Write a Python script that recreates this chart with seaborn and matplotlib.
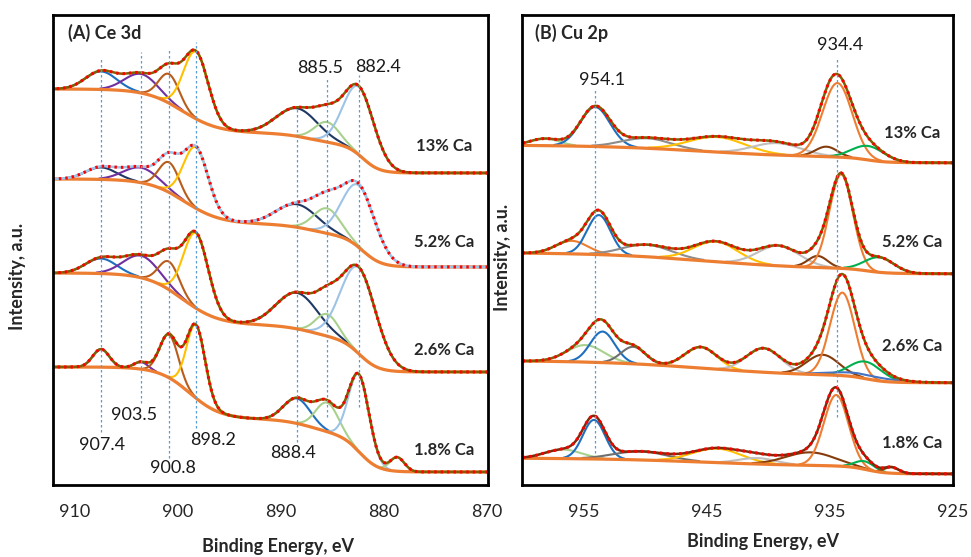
import numpy as np
import seaborn as sns
import matplotlib.pyplot as plt

sns.set_style("white")
plt.rcParams["font.family"] = ["Lato", "DejaVu Sans"]

# colours used by the fitting program
ORANGE = "#ED7D31"
OLIVE = "#7F6000"
BLUE = "#1F6FBF"
NAVY = "#203864"
PURPLE = "#7030A0"
BROWN = "#B85C1C"
GOLD = "#FFC000"
LGREEN = "#A9D18E"
LBLUE = "#9DC3E6"
GREEN = "#00B050"
DBROWN = "#843C0C"
GRAY = "#8C8C8C"
LGRAY = "#BFBFBF"
DGRAY = "#6F6F6F"

# ---------------- (A) Ce 3d ----------------
ce_labels = ["13% Ca", "5.2% Ca", "2.6% Ca", "1.8% Ca"]
ce_label_y = [339, 243, 135, 35]
ce_floor = [312, 218, 113, 13]
# background steps: (centre eV, size, width)
ce_steps_13 = [(899.5, 44, 3.5), (887.0, 12, 3.0), (882.0, 28, 1.6)]
ce_steps_52 = [(899.3, 45, 3.5), (887.0, 12, 3.0), (882.0, 31, 1.8)]
ce_steps_26 = [(899.5, 52, 3.5), (887.0, 14, 3.0), (882.3, 33, 1.8)]
ce_steps_18 = [(898.8, 52, 3.0), (887.0, 16, 3.0), (882.3, 37, 1.8)]

ce_pos = [907.4, 903.5, 900.8, 898.2, 888.4, 885.5, 882.4]
ce_pos_18 = [907.4, 903.5, 900.8, 898.2, 888.4, 885.5, 882.4, 878.7]
ce_h_13 = [18, 19, 29, 67, 28, 20, 68]
ce_h_52 = [12, 15, 30, 61, 23, 25, 62]
ce_h_26 = [15, 22, 28, 75, 36, 22, 86]
ce_h_18 = [18, 7, 43, 73, 25, 29, 77, 14]
ce_w_13 = [1.5, 1.6, 1.0, 1.2, 2.0, 1.2, 1.5]
ce_w_52 = [1.5, 1.7, 1.0, 1.2, 2.0, 1.3, 1.6]
ce_w_26 = [1.5, 1.7, 1.0, 1.2, 2.0, 1.1, 1.7]
ce_w_18 = [0.8, 0.7, 0.9, 0.9, 1.3, 1.1, 1.0, 0.7]
ce_col = [BLUE, PURPLE, BROWN, GOLD, NAVY, LGREEN, LBLUE]
ce_col_52 = [NAVY, PURPLE, BROWN, GOLD, NAVY, LGREEN, LBLUE]
ce_col_18 = [BLUE, PURPLE, BROWN, GOLD, BLUE, LGREEN, LBLUE, LGREEN]
ce_env = [OLIVE, LBLUE, OLIVE, OLIVE]

# dotted guide lines: energy, top, bottom
ce_marks = [907.4, 903.5, 900.8, 898.2, 888.4, 885.5, 882.4]
ce_mark_top = [428, 433, 437, 443, 378, 407, 410]
ce_mark_bot = [53, 82, 27, 57, 43, 68, 78]
ce_text = ["907.4", "903.5", "900.8", "898.2", "888.4", "885.5", "882.4"]
ce_text_x = [907.3, 904.2, 900.4, 896.5, 888.8, 886.2, 880.6]
ce_text_y = [40, 70, 17, 45, 32, 417, 418]

# ---------------- (B) Cu 2p ----------------
cu_labels = ["13% Ca", "5.2% Ca", "2.6% Ca", "1.8% Ca"]
cu_label_y = [352, 243, 139, 42]
cu_floor = [322, 211, 102, 11]
cu_steps_13 = [(945, 13, 9), (932, 5.0, 1.5)]
cu_steps_52 = [(945, 17, 9), (932, 4.5, 1.5)]
cu_steps_26 = [(945, 16, 9), (932, 6.5, 1.5)]
cu_steps_18 = [(945, 8.5, 9), (932, 7.5, 1.5)]

cu_pos_13 = [958.2, 954.1, 949.9, 944.2, 939.3, 935.3, 934.4, 931.9]
cu_h_13 = [7, 39.5, 10, 15, 12, 10, 74, 14]
cu_w_13 = [1.2, 1.2, 2.0, 2.3, 2.0, 0.9, 1.2, 1.3]
cu_col_13 = [LGREEN, BLUE, GRAY, GOLD, LGRAY, DBROWN, ORANGE, GREEN]

cu_pos_52 = [956.0, 953.8, 949.9, 944.3, 939.2, 936.0, 934.1, 931.0]
cu_h_52 = [13, 39.5, 12, 20, 20, 11.5, 94, 15]
cu_w_52 = [1.3, 0.95, 2.0, 1.8, 1.7, 0.8, 0.95, 1.2]
cu_col_52 = [ORANGE, BLUE, GRAY, GOLD, LGRAY, DBROWN, ORANGE, GREEN]

cu_pos_26 = [954.9, 953.5, 951.0, 945.5, 940.4, 935.6, 934.0, 932.1, 932.5]
cu_h_26 = [17, 31, 17, 21, 24, 20, 83, 17, 4]
cu_w_26 = [1.5, 1.0, 1.0, 1.3, 1.4, 1.3, 1.0, 1.3, 2.5]
cu_col_26 = [LGREEN, BLUE, DGRAY, GOLD, LGRAY, DBROWN, ORANGE, GREEN, "#4472C4"]

cu_pos_18 = [956.7, 954.2, 950.4, 944.2, 940.9, 936.6, 934.5, 932.2, 930.0]
cu_h_18 = [9, 39, 8.5, 14, 6, 13, 71, 8, 6]
cu_w_18 = [1.5, 0.9, 2.2, 2.0, 1.5, 2.0, 1.0, 0.8, 0.6]
cu_col_18 = [LGREEN, BLUE, DGRAY, GOLD, LGRAY, DBROWN, ORANGE, GREEN, DBROWN]
cu_env = [OLIVE, OLIVE, OLIVE, "#7B2C0A"]

cu_marks = [954.1, 934.4]
cu_mark_top = [395, 428]
cu_mark_bot = [32, 68]
cu_text = ["954.1", "934.4"]
cu_text_x = [953.5, 934.2]
cu_text_y = [405, 440]


def background(E, floor, steps):
    bg = np.full(E.shape, float(floor))
    for c, size, w in steps:
        bg += size * 0.5 * (1 + np.tanh((E - c) / w))
    return bg


def draw_spectrum(ax, E, floor, steps, pos, heights, widths, colors, env_color):
    bg = background(E, floor, steps)
    total = bg.copy()
    for c, h, w, col in zip(pos, heights, widths, colors):
        g = h * np.exp(-0.5 * ((E - c) / w) ** 2)
        total += g
        comp = np.where(g > 0.8, bg + g, np.nan)
        sns.lineplot(x=E, y=comp, color=col, linewidth=1.5, ax=ax, estimator=None)
    sns.lineplot(x=E, y=bg, color=ORANGE, linewidth=2.3, ax=ax, estimator=None)
    sns.lineplot(x=E, y=total, color=env_color, linewidth=1.8, ax=ax, estimator=None)
    # measured points, shown as red dots along the curve
    sns.lineplot(x=E, y=total, color="red", linewidth=2.2, linestyle=(0, (0.8, 1.3)),
                 ax=ax, estimator=None)


def style_axes(ax, xlim, ticks):
    ax.set_xlim(*xlim)
    ax.set_ylim(0, 470)
    ax.set_xticks(ticks)
    ax.set_yticks([])
    ax.tick_params(axis="x", length=0, pad=14, labelsize=13)
    for sp in ax.spines.values():
        sp.set_visible(True)
        sp.set_color("black")
        sp.set_linewidth(2)
    ax.set_xlabel("Binding Energy, eV", fontsize=13, fontweight="bold")
    ax.set_ylabel("Intensity, a.u.", fontsize=13, fontweight="bold")


fig = plt.figure(figsize=(9.71, 5.57), dpi=100)
ax1 = fig.add_axes([0.0546, 0.1293, 0.448, 0.8438])
ax2 = fig.add_axes([0.5376, 0.1293, 0.4439, 0.8438])

# panel A
E_ce = np.arange(869.9, 912.05, 0.05)
ce_data = [
    (ce_floor[0], ce_steps_13, ce_pos, ce_h_13, ce_w_13, ce_col),
    (ce_floor[1], ce_steps_52, ce_pos, ce_h_52, ce_w_52, ce_col_52),
    (ce_floor[2], ce_steps_26, ce_pos, ce_h_26, ce_w_26, ce_col),
    (ce_floor[3], ce_steps_18, ce_pos_18, ce_h_18, ce_w_18, ce_col_18),
]
for (fl, st, p, h, w, col), env in zip(ce_data, ce_env):
    draw_spectrum(ax1, E_ce, fl, st, p, h, w, col, env)

ax1.vlines(ce_marks, ce_mark_bot, ce_mark_top, colors="#5B9BD5", linewidth=0.9,
           linestyles=(0, (2, 2)))
for t, x, y in zip(ce_text, ce_text_x, ce_text_y):
    ax1.text(x, y, t, fontsize=13, ha="center", va="center", color="#1a1a1a")
for t, y in zip(ce_labels, ce_label_y):
    ax1.text(874.2, y, t, fontsize=12, fontweight="bold", ha="center", va="center")
ax1.text(0.034, 0.962, "(A) Ce 3d", transform=ax1.transAxes, fontsize=13,
         fontweight="bold", ha="left", va="center")
style_axes(ax1, (912.05, 869.9), [910, 900, 890, 880, 870])
ax1.xaxis.set_label_coords(0.517, -0.113)
ax1.yaxis.set_label_coords(-0.062, 0.443)

# panel B
E_cu = np.arange(925.0, 960.05, 0.04)
cu_data = [
    (cu_floor[0], cu_steps_13, cu_pos_13, cu_h_13, cu_w_13, cu_col_13),
    (cu_floor[1], cu_steps_52, cu_pos_52, cu_h_52, cu_w_52, cu_col_52),
    (cu_floor[2], cu_steps_26, cu_pos_26, cu_h_26, cu_w_26, cu_col_26),
    (cu_floor[3], cu_steps_18, cu_pos_18, cu_h_18, cu_w_18, cu_col_18),
]
for (fl, st, p, h, w, col), env in zip(cu_data, cu_env):
    draw_spectrum(ax2, E_cu, fl, st, p, h, w, col, env)

ax2.vlines(cu_marks, cu_mark_bot, cu_mark_top, colors="#5B9BD5", linewidth=0.9,
           linestyles=(0, (2, 2)))
for t, x, y in zip(cu_text, cu_text_x, cu_text_y):
    ax2.text(x, y, t, fontsize=13, ha="center", va="center", color="#1a1a1a")
for t, y in zip(cu_labels, cu_label_y):
    ax2.text(928.3, y, t, fontsize=12, fontweight="bold", ha="center", va="center")
ax2.text(0.030, 0.962, "(B) Cu 2p", transform=ax2.transAxes, fontsize=13,
         fontweight="bold", ha="left", va="center")
style_axes(ax2, (960.05, 925.0), [955, 945, 935, 925])
ax2.xaxis.set_label_coords(0.559, -0.102)
ax2.yaxis.set_label_coords(-0.026, 0.485)

fig.savefig("out.png", dpi=100)
